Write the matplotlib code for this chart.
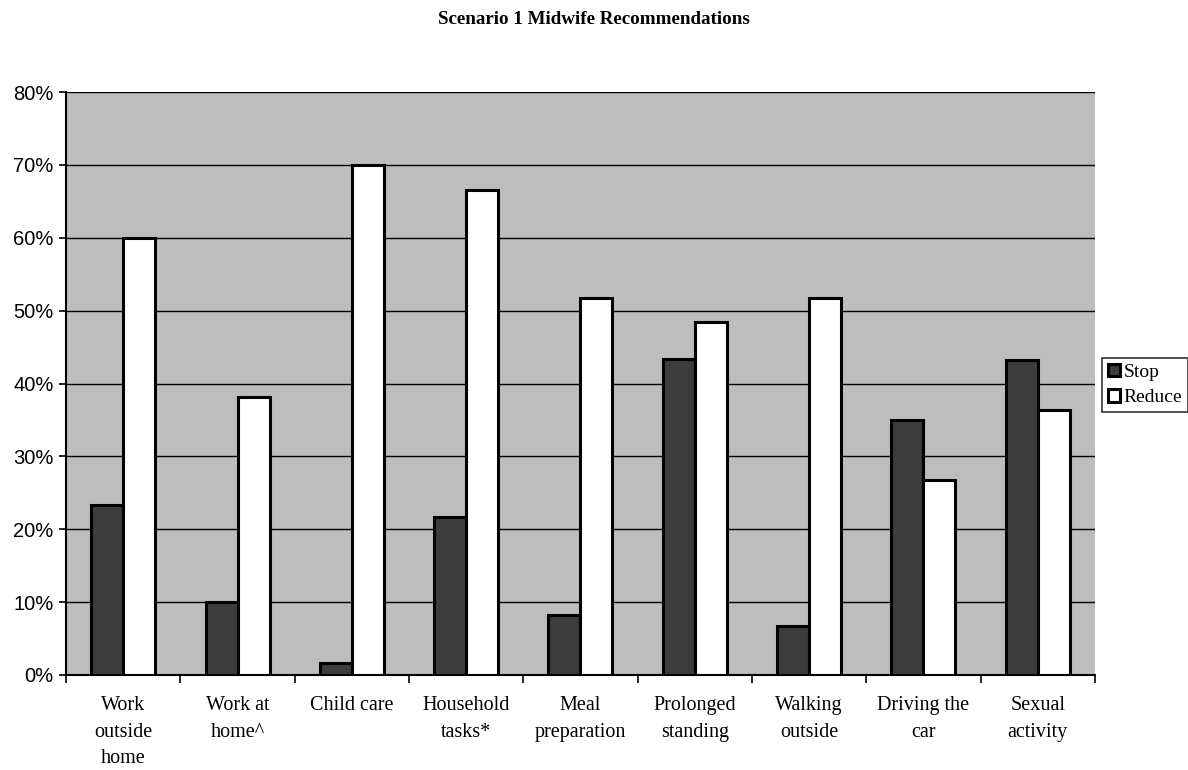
import matplotlib.pyplot as plt
import numpy as np
from matplotlib.ticker import PercentFormatter, FixedLocator

categories = ["Work\noutside\nhome", "Work at\nhome^", "Child care", "Household\ntasks*",
              "Meal\npreparation", "Prolonged\nstanding", "Walking\noutside",
              "Driving the\ncar", "Sexual\nactivity"]
stop = [23.3, 10.0, 1.7, 21.7, 8.3, 43.4, 6.7, 35.0, 43.2]
reduce = [60.0, 38.2, 70.0, 66.6, 51.8, 48.4, 51.8, 26.7, 36.3]

fig = plt.figure(figsize=(11.88, 7.70), dpi=100)
ax = fig.add_axes([0.0556, 0.1234, 0.866, 0.757])
ax.set_facecolor("#bdbdbd")

x = np.arange(len(categories))
w = 0.28
ax.bar(x - w / 2, stop, w, color="#3c3c3c", edgecolor="black", linewidth=2.2,
       label="Stop", zorder=3)
ax.bar(x + w / 2, reduce, w, color="white", edgecolor="black", linewidth=2.2,
       label="Reduce", zorder=3)

ax.set_xlim(-0.5, len(categories) - 0.5)
ax.set_ylim(0, 80)
ax.set_yticks(np.arange(0, 81, 10))
ax.yaxis.set_major_formatter(PercentFormatter(decimals=0))
ax.yaxis.grid(True, color="black", linewidth=1.0, zorder=1)
ax.set_axisbelow(True)

# category labels centred, tick marks between groups
ax.set_xticks(x)
ax.set_xticklabels(categories, family="Liberation Serif", fontsize=14.5,
                   linespacing=1.55, va="top")
ax.tick_params(axis="x", which="major", length=0, pad=15)
ax.xaxis.set_minor_locator(FixedLocator(np.arange(-0.5, len(categories), 1)))
ax.tick_params(axis="x", which="minor", length=6, width=1.2, direction="out")
ax.tick_params(axis="y", length=5, width=1.2, direction="out",
               labelsize=14.5, pad=4)
for lab in ax.get_yticklabels():
    lab.set_family("Liberation Sans")

for side in ["top", "right"]:
    ax.spines[side].set_visible(False)
ax.spines["left"].set_linewidth(1.5)
ax.spines["bottom"].set_linewidth(1.5)

leg = fig.legend(loc="center left", bbox_to_anchor=(1102 / 1188, 1 - 385 / 770),
                 prop={"family": "Liberation Serif", "size": 14},
                 frameon=True, fancybox=False, edgecolor="black",
                 handlelength=0.6, handleheight=0.6, handletextpad=0.2,
                 borderpad=0.3, borderaxespad=0, labelspacing=0.45)
leg.get_frame().set_linewidth(1.2)

fig.text(0.5, 1 - 20 / 770, "Scenario 1 Midwife Recommendations", ha="center",
         va="center", family="Liberation Serif", fontweight="bold", fontsize=13.7)

fig.savefig("out.png", dpi=100)
